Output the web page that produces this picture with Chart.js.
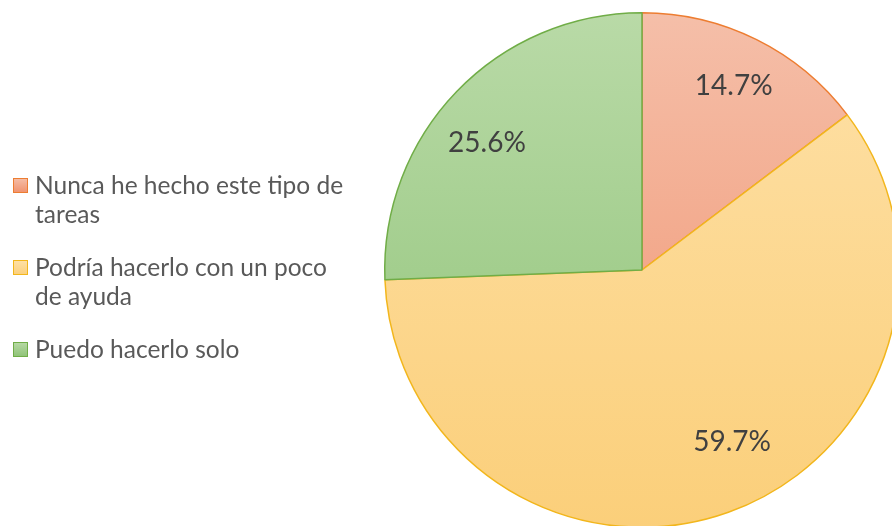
<!DOCTYPE html>
<html>
<head>
<meta charset="utf-8">
<script src="https://cdn.jsdelivr.net/npm/chart.js@4/dist/chart.umd.min.js"></script>
<style>
  html, body { margin: 0; padding: 0; background: #fff; overflow: hidden; }
  #wrap { position: relative; width: 912px; height: 540px; }
</style>
</head>
<body>
<div id="wrap"><canvas id="pie" width="912" height="540"></canvas></div>
<script>
// survey answers, share of respondents (%)
var categories = [
  ['Nunca he hecho este tipo de', 'tareas'],
  ['Podría hacerlo con un poco', 'de ayuda'],
  ['Puedo hacerlo solo']
];
var shares = [14.7, 59.7, 25.6];

// fill gradients (top -> bottom of the pie) and outlines per slice
var fillTop = ['#f5bfa9', '#fee1a8', '#b9daa7'];
var fillBottom = ['#f0916d', '#fbcf7a', '#8dc275'];
var outline = ['#ed7d31', '#f2b61c', '#70ad47'];

var FONT = 'Lato, "Open Sans", sans-serif';

function sliceFill(c) {
  var chart = c.chart, area = chart.chartArea;
  var i = c.dataIndex;
  if (!area) return fillTop[i];
  var g = chart.ctx.createLinearGradient(0, area.top, 0, area.bottom);
  g.addColorStop(0, fillTop[i]);
  g.addColorStop(1, fillBottom[i]);
  return g;
}

// percentage labels inside the slices
var sliceLabels = {
  id: 'sliceLabels',
  afterDatasetsDraw: function(chart, args, opts) {
    var ctx = chart.ctx;
    var meta = chart.getDatasetMeta(0);
    ctx.save();
    ctx.font = opts.size + 'px ' + FONT;
    ctx.fillStyle = opts.color;
    ctx.textAlign = 'center';
    ctx.textBaseline = 'middle';
    meta.data.forEach(function(arc, i) {
      var p = arc.getProps(['x', 'y', 'startAngle', 'endAngle', 'outerRadius'], true);
      var nudge = opts.nudge[i] || [0, 0.8];
      var a = (p.startAngle + p.endAngle) / 2 + nudge[0] * Math.PI / 180;
      var r = p.outerRadius * nudge[1];
      var v = chart.data.datasets[0].data[i];
      ctx.fillText(v.toFixed(1) + '%', p.x + Math.cos(a) * r, p.y + Math.sin(a) * r);
    });
    ctx.restore();
  }
};

// legend block on the left, labels wrap onto several lines
var sideLegend = {
  id: 'sideLegend',
  afterDraw: function(chart, args, opts) {
    var ctx = chart.ctx;
    var y = opts.top;
    ctx.save();
    ctx.font = opts.size + 'px ' + FONT;
    ctx.textBaseline = 'alphabetic';
    ctx.textAlign = 'left';
    chart.data.labels.forEach(function(lines, i) {
      var bx = opts.left, by = y - opts.box - 1;
      var g = ctx.createLinearGradient(0, by, 0, by + opts.box);
      g.addColorStop(0, fillTop[i]);
      g.addColorStop(1, fillBottom[i]);
      ctx.fillStyle = g;
      ctx.fillRect(bx, by, opts.box, opts.box);
      ctx.strokeStyle = outline[i];
      ctx.lineWidth = 1;
      ctx.strokeRect(bx + 0.5, by + 0.5, opts.box - 1, opts.box - 1);
      ctx.fillStyle = opts.color;
      lines.forEach(function(t, k) {
        ctx.fillText(t, opts.textX, y + k * opts.lineHeight);
      });
      y += lines.length * opts.lineHeight + opts.gap;
    });
    ctx.restore();
  }
};

new Chart(document.getElementById('pie'), {
  type: 'pie',
  data: {
    labels: categories,
    datasets: [{
      data: shares,
      backgroundColor: sliceFill,
      borderColor: outline,
      borderWidth: 1.5,
      hoverOffset: 0
    }]
  },
  options: {
    responsive: false,
    animation: false,
    devicePixelRatio: 1,
    layout: { padding: { left: 384, right: 12, top: 12, bottom: 12 } },
    plugins: {
      legend: { display: false },
      tooltip: { enabled: false },
      sliceLabels: { size: 28, color: '#404040', nudge: [[0, 0.8], [-8, 0.755], [-4.5, 0.78]] },
      sideLegend: { left: 13, textX: 35, top: 194, size: 24.5, lineHeight: 29, gap: 24, box: 15, color: '#595959' }
    }
  },
  plugins: [sliceLabels, sideLegend]
});
</script>
</body>
</html>
